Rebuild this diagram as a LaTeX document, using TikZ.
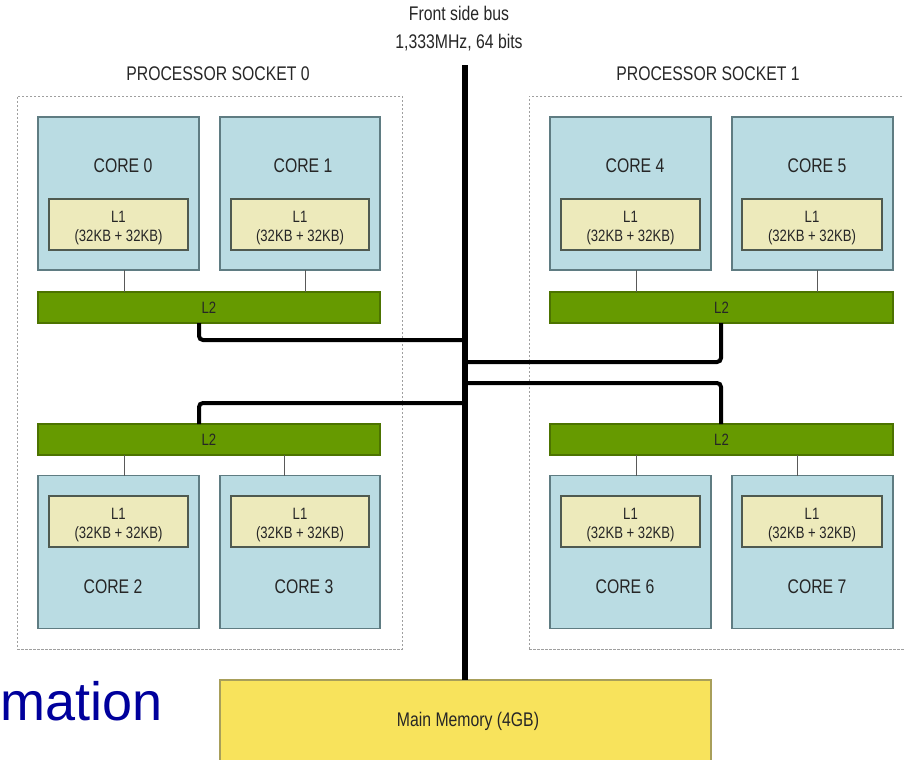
\documentclass[tikz,border=0pt]{standalone}
\usepackage{fontspec}
\setmainfont{Liberation Sans}[FakeStretch=0.8]
\newfontfamily\bigsans{Liberation Sans}
\newlength\px
\setlength\px{0.75pt}
\newcommand\lonetxt{\rule{0pt}{13.5pt}L1\\(32KB + 32KB)}
\definecolor{corefill}{HTML}{BADCE3}
\definecolor{coreline}{HTML}{5F7C82}
\definecolor{lonefill}{HTML}{EDEABB}
\definecolor{loneline}{HTML}{4F5A50}
\definecolor{ltwofill}{HTML}{669A00}
\definecolor{ltwoline}{HTML}{4C7300}
\definecolor{memfill}{HTML}{F8E35C}
\definecolor{memline}{HTML}{A89F5A}
\definecolor{txt}{HTML}{262626}
\definecolor{navy}{HTML}{00009C}
\tikzset{
  box/.style={rectangle, inner sep=0pt, outer sep=0pt},
  corebox/.style={box, fill=corefill, draw=coreline, line width=1.3\px, minimum width=161\px, minimum height=153\px},
  lone/.style={box, fill=lonefill, draw=loneline, line width=1.3\px, minimum width=139\px, minimum height=51\px, align=center, font=\fontsize{12.3}{14.25}\selectfont, text=txt},
  ltwo/.style={box, fill=ltwofill, draw=ltwoline, line width=1.3\px, minimum width=342\px, minimum height=31\px, font=\fontsize{12.3}{14}\selectfont, text=txt},
  memb/.style={box, fill=memfill, draw=memline, line width=1.3\px, minimum width=491\px, minimum height=90\px},
  socket/.style={box, draw=gray!75, dash pattern=on 2.5\px off 1.5\px, line width=0.9\px},
  lbl/.style={inner sep=0pt, font=\fontsize{14.8}{16}\selectfont, text=txt},
  bus/.style={line width=6\px, black},
  branch/.style={line width=4\px, black, rounded corners=4\px},
  link/.style={line width=1\px, draw=black!65}
}
\begin{document}
\begin{tikzpicture}[x=0.75pt,y=-0.75pt]
\useasboundingbox (0,0) rectangle (904,760);
\clip (0,0) rectangle (904,760);
% sockets
\node[socket, minimum width=385\px, minimum height=553\px] (s0) at (209.5,372.5) {};
\node[socket, minimum width=386\px, minimum height=553\px] (s1) at (722,372.5) {};
\node[lbl] (s0t) at (218,74) {PROCESSOR SOCKET 0};
\node[lbl] (s1t) at (708,74) {PROCESSOR SOCKET 1};
% front side bus label
\node[lbl, align=center, font=\fontsize{14.8}{21}\selectfont] (fsb) at (459,29) {Front side bus\\1,333MHz, 64 bits};
% cores
\node[corebox] (c0) at (118.5,193.5) {};
\node[corebox, minimum width=160\px] (c1) at (300,193.5) {};
\node[corebox] (c4) at (630.5,193.5) {};
\node[corebox] (c5) at (812.5,193.5) {};
\node[corebox] (c2) at (118.5,552) {};
\node[corebox, minimum width=160\px] (c3) at (300,552) {};
\node[corebox] (c6) at (630.5,552) {};
\node[corebox] (c7) at (812.5,552) {};
\node[lbl] (c0t) at (123,166) {CORE 0};
\node[lbl] (c1t) at (303,166) {CORE 1};
\node[lbl] (c4t) at (635,166) {CORE 4};
\node[lbl] (c5t) at (817,166) {CORE 5};
\node[lbl] (c2t) at (113,587) {CORE 2};
\node[lbl] (c3t) at (304,587) {CORE 3};
\node[lbl] (c6t) at (625,587) {CORE 6};
\node[lbl] (c7t) at (817,587) {CORE 7};
% L1 caches
\node[lone] (a0) at (118.5,224.5) {\lonetxt};
\node[lone, minimum width=138\px] (a1) at (300,224.5) {\lonetxt};
\node[lone] (a4) at (630.5,224.5) {\lonetxt};
\node[lone, minimum width=140\px] (a5) at (812,224.5) {\lonetxt};
\node[lone] (a2) at (118.5,521.5) {\lonetxt};
\node[lone, minimum width=138\px] (a3) at (300,521.5) {\lonetxt};
\node[lone] (a6) at (630.5,521.5) {\lonetxt};
\node[lone, minimum width=140\px] (a7) at (812,521.5) {\lonetxt};
% L2 caches
\node[ltwo] (la) at (209,307.5) {L2};
\node[ltwo, minimum width=343\px] (lb) at (721.5,307.5) {L2};
\node[ltwo] (lc) at (209,439.5) {L2};
\node[ltwo, minimum width=343\px] (ld) at (721.5,439.5) {L2};
% core to L2 links
\draw[link] ([xshift=5.5\px]c0.south) -- ([xshift=5.5\px]c0.south |- la.north);
\draw[link] ([xshift=5\px]c1.south) -- ([xshift=5\px]c1.south |- la.north);
\draw[link] ([xshift=5.5\px]c4.south) -- ([xshift=5.5\px]c4.south |- lb.north);
\draw[link] ([xshift=4.5\px]c5.south) -- ([xshift=4.5\px]c5.south |- lb.north);
\draw[link] ([xshift=5.5\px]c2.north) -- ([xshift=5.5\px]c2.north |- lc.south);
\draw[link] ([xshift=-16\px]c3.north) -- ([xshift=-16\px]c3.north |- lc.south);
\draw[link] ([xshift=5.5\px]c6.north) -- ([xshift=5.5\px]c6.north |- ld.south);
\draw[link] ([xshift=-15.5\px]c7.north) -- ([xshift=-15.5\px]c7.north |- ld.south);
% main memory
\node[memb] (mem) at (465.5,725) {};
\node[lbl] (memt) at (468,721) {Main Memory (4GB)};
% bus junctions
\coordinate (bustop) at (465,65);
\coordinate (ja) at (465,340);
\coordinate (jb) at (465,362);
\coordinate (jd) at (465,383);
\coordinate (jc) at (465,403);
% branches
\draw[branch] ([xshift=-10\px]la.south) |- (ja);
\draw[branch] ([xshift=-0.5\px]lb.south) |- (jb);
\draw[branch] ([xshift=-0.5\px]ld.north) |- (jd);
\draw[branch] ([xshift=-10\px]lc.north) |- (jc);
% front side bus
\draw[bus] (bustop) -- (bustop |- mem.north);
% partial slide title
\node[anchor=base west, inner sep=0pt, font=\bigsans\fontsize{40.5}{48}\selectfont, text=navy] (mat) at (0,720) {mation};
\end{tikzpicture}
\end{document}
